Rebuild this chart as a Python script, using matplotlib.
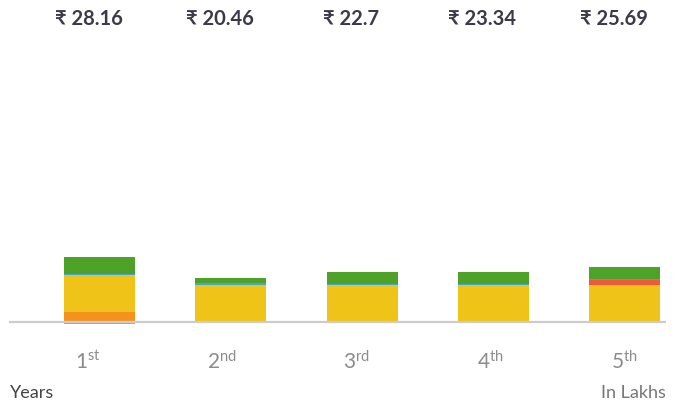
import matplotlib
matplotlib.use("Agg")
import matplotlib.pyplot as plt
import matplotlib.transforms as mtransforms

plt.rcParams['font.family'] = ['Lato', 'DejaVu Sans']
plt.rcParams['mathtext.default'] = 'regular'

# ---- data ----
years = ["1st", "2nd", "3rd", "4th", "5th"]
year_nums = ["1", "2", "3", "4", "5"]
year_sups = ["st", "nd", "rd", "th", "th"]
totals = ["₹ 28.16", "₹ 20.46", "₹ 22.7", "₹ 23.34", "₹ 25.69"]
seg_orange = [4.65, 0.0, 0.0, 0.0, 0.0]
seg_orange_neg = [-0.9, 0.0, 0.0, 0.0, 0.0]
seg_yellow = [17.1, 17.2, 17.2, 17.2, 17.2]
seg_red = [0.0, 0.0, 0.0, 0.0, 2.3]
seg_blue = [0.6, 0.9, 0.5, 0.5, 0.4]
seg_green = [7.9, 2.3, 5.6, 5.6, 5.6]

W, H = 678, 403
fig = plt.figure(figsize=(W / 100, H / 100), dpi=100)
ax_left, ax_right, ax_top, ax_bot = 9, 666, 40, 330
ax = fig.add_axes([ax_left / W, 1 - ax_bot / H, (ax_right - ax_left) / W, (ax_bot - ax_top) / H])

unit = 131.25          # pixels per category
ppv = 2.15             # pixels per value unit
x0 = 99.5              # first bar centre (px)
base = 322             # baseline (px)
ax.set_xlim(-(x0 - ax_left) / unit, (ax_right - x0) / unit)
ax.set_ylim(-(ax_bot - base) / ppv, (base - ax_top) / ppv)

xs = list(range(len(years)))
bw = 71 / unit
c_orange, c_yellow, c_red, c_blue, c_green = "#f5921e", "#efc317", "#f1573a", "#3ca8d8", "#4ea227"

ax.bar(xs, seg_orange_neg, width=bw, color=c_orange, zorder=2)
bottom = [0.0] * 5
for vals, col in [(seg_orange, c_orange), (seg_yellow, c_yellow), (seg_red, c_red),
                  (seg_blue, c_blue), (seg_green, c_green)]:
    ax.bar(xs, vals, width=bw, bottom=bottom, color=col, zorder=2, linewidth=0)
    bottom = [b + v for b, v in zip(bottom, vals)]

ax.axhline(0, color="#cccccc", lw=1.6, zorder=3)

for s in ax.spines.values():
    s.set_visible(False)
ax.set_xticks([])
ax.set_yticks([])

# top total labels
trans_top = mtransforms.blended_transform_factory(ax.transData, fig.transFigure)
for i, t in enumerate(totals):
    ax.text(i - 11 / unit, 1 - 19 / H, t, transform=trans_top, ha="center", va="center",
            fontsize=14.5, fontweight="bold", color="#3a3a48")

# category labels
for i, (n, s) in enumerate(zip(year_nums, year_sups)):
    xc = (88 + 134 * i - x0) / unit
    ax.text(xc, 1 - 369 / H, r"$%s^{%s}$" % (n, s), transform=trans_top, ha="center",
            va="baseline", fontsize=15, color="#8c8c8c", fontweight="normal")

fig.text(10 / W, 1 - 398 / H, "Years", ha="left", va="baseline", fontsize=13, color="#444444")
fig.text(666 / W, 1 - 398 / H, "In Lakhs", ha="right", va="baseline", fontsize=13, color="#777777")

fig.savefig("out.png", dpi=100)
